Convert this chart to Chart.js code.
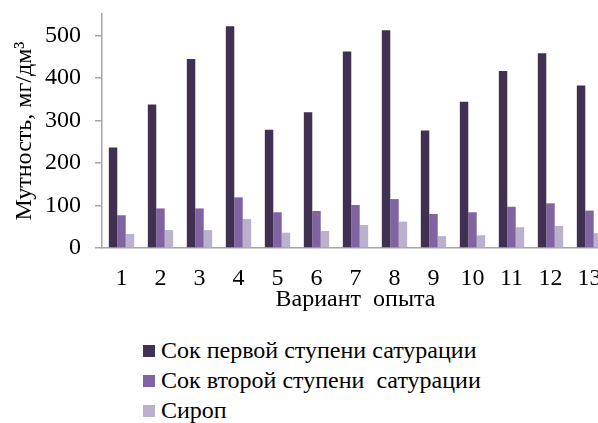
<!DOCTYPE html>
<html>
<head>
<meta charset="utf-8">
<script src="https://cdn.jsdelivr.net/npm/chart.js@4"></script>
<style>
  body { margin: 0; background: #fff; overflow: hidden; width: 598px; height: 423px; position: relative; }
  #wrap { position: absolute; left: 0; top: 0; width: 620px; height: 330px; }
  #legenda { position: absolute; left: 143px; top: 335px; font-family: "Liberation Serif", "Times New Roman", serif; font-size: 24px; color: #000; }
  #legenda div { height: 30px; line-height: 30px; white-space: pre; }
  #legenda span { display: inline-block; width: 12px; height: 12px; margin-right: 6px; vertical-align: 1px; }
</style>
</head>
<body>
<div id="wrap"><canvas id="grafico" width="620" height="330"></canvas></div>
<div id="legenda"></div>
<script>
// datos
const variantes = ["1", "2", "3", "4", "5", "6", "7", "8", "9", "10", "11", "12", "13"];
const sokPervoy = [236, 337, 444, 521, 278, 319, 462, 512, 276, 344, 416, 458, 382];
const sokVtoroy = [77, 93, 93, 119, 84, 87, 101, 115, 80, 84, 97, 105, 88];
const sirop = [33, 42, 42, 68, 36, 40, 54, 62, 28, 30, 49, 52, 35];
const yTicks = [0, 100, 200, 300, 400, 500];

const series = [
    { label: "Сок первой ступени сатурации", data: sokPervoy, color: "#403152" },
    { label: "Сок второй ступени  сатурации", data: sokVtoroy, color: "#8064a2" },
    { label: "Сироп", data: sirop, color: "#bcb1cd" }
];

const fuente = "'Liberation Serif', 'Times New Roman', serif";
const gris = "#a6a6a6";

const ctx = document.getElementById('grafico').getContext('2d');
const miGrafico = new Chart(ctx, {
    type: 'bar',
    data: {
        labels: variantes,
        datasets: series.map(s => ({
            label: s.label,
            data: s.data,
            backgroundColor: s.color,
            borderWidth: 0,
            categoryPercentage: 0.65,
            barPercentage: 1
        }))
    },
    options: {
        responsive: false,
        animation: false,
        layout: { padding: { left: 0, top: 14, right: 11, bottom: 0 } },
        plugins: { legend: { display: false }, tooltip: { enabled: false } },
        scales: {
            x: {
                afterFit: s => { s.height = 82; s.paddingLeft = 0; s.paddingRight = 0; },
                grid: { display: false, drawTicks: false },
                border: { color: gris, width: 1.5 },
                ticks: { color: "#000", padding: 16, maxRotation: 0, font: { family: fuente, size: 24 } },
                title: {
                    display: true,
                    text: "Вариант  опыта",
                    color: "#000",
                    font: { family: fuente, size: 24, lineHeight: 1 },
                    padding: { top: 0, bottom: 18 }
                }
            },
            y: {
                min: 0,
                max: 550,
                afterFit: s => { s.width = 102; s.paddingTop = 0; s.paddingBottom = 0; },
                afterBuildTicks: s => { s.ticks = yTicks.map(v => ({ value: v })); },
                grid: { drawOnChartArea: false, drawTicks: true, tickLength: 7, color: gris, lineWidth: 1.5 },
                border: { color: gris, width: 1.5 },
                ticks: { color: "#000", padding: 14, font: { family: fuente, size: 24 } },
                title: {
                    display: true,
                    text: "Мутность, мг/дм³",
                    color: "#000",
                    font: { family: fuente, size: 24, lineHeight: 1 },
                    padding: { top: 13, bottom: 0 }
                }
            }
        }
    }
});

// leyenda
const leyenda = document.getElementById('legenda');
series.forEach(s => {
    const fila = document.createElement('div');
    const caja = document.createElement('span');
    caja.style.background = s.color;
    fila.appendChild(caja);
    fila.appendChild(document.createTextNode(s.label));
    leyenda.appendChild(fila);
});
</script>
</body>
</html>
